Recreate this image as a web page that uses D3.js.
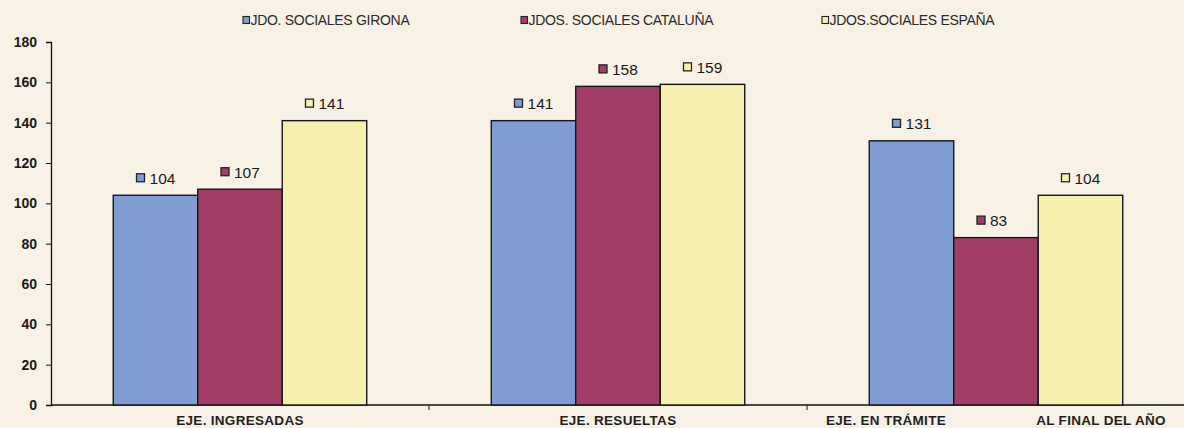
<!DOCTYPE html>
<html>
<head>
<meta charset="utf-8">
<script src="https://cdn.jsdelivr.net/npm/d3@7"></script>
<style>
  body { margin: 0; background: #f8f1e5; }
  svg { display: block; font-family: "Liberation Sans", Arial, sans-serif; }
</style>
</head>
<body>
<div id="chart"></div>
<script>
// data
var categories = ["EJE. INGRESADAS", "EJE. RESUELTAS", "EJE. EN TRÁMITE AL FINAL DEL AÑO"];
var seriesNames = ["JDO. SOCIALES GIRONA", "JDOS. SOCIALES CATALUÑA", "JDOS.SOCIALES ESPAÑA"];
var girona = [104, 141, 131];
var cataluna = [107, 158, 83];
var espana = [141, 159, 104];
var yTicks = [0, 20, 40, 60, 80, 100, 120, 140, 160, 180];

var colors = ["#7f9dd2", "#a13d66", "#f6efae"];
var series = [girona, cataluna, espana];

var width = 1184, height = 428;
var margin = {top: 42, right: -1, bottom: 23, left: 51};

var svg = d3.select("#chart")
    .append("svg")
    .attr("width", width)
    .attr("height", height);

svg.append("rect").attr("width", width).attr("height", height).attr("fill", "#f8f1e5");

var x0 = d3.scaleBand()
    .domain(categories)
    .range([margin.left, width - margin.right])
    .paddingInner(0)
    .paddingOuter(0);

var x1 = d3.scaleBand()
    .domain(d3.range(seriesNames.length))
    .range([0, x0.bandwidth()])
    .paddingOuter(0.737)
    .paddingInner(0);

var y = d3.scaleLinear()
    .domain([0, 180])
    .range([height - margin.bottom, margin.top]);

// y axis
var yAxis = svg.append("g")
    .attr("transform", "translate(" + margin.left + ",0)")
    .call(d3.axisLeft(y).tickValues(yTicks).tickSize(5).tickPadding(9));
yAxis.select(".domain").attr("stroke", "#111").attr("stroke-width", 1.3);
yAxis.selectAll(".tick line").attr("stroke", "#111");
yAxis.selectAll("text")
    .attr("font-size", 14)
    .attr("font-weight", "bold")
    .attr("fill", "#1a1a1a")
    .attr("font-family", "'Liberation Sans', Arial, sans-serif");

// x axis
var xAxis = svg.append("g")
    .attr("transform", "translate(0," + y(0) + ")");
xAxis.append("line")
    .attr("x1", margin.left).attr("x2", width)
    .attr("stroke", "#111").attr("stroke-width", 1.3);
xAxis.selectAll(".sep")
    .data(categories.slice(1))
    .enter().append("line")
    .attr("class", "sep")
    .attr("x1", function (d) { return x0(d); })
    .attr("x2", function (d) { return x0(d); })
    .attr("y1", 0).attr("y2", 5)
    .attr("stroke", "#111");

// bars
var groups = svg.append("g")
    .selectAll("g")
    .data(categories)
    .enter().append("g")
    .attr("transform", function (d) { return "translate(" + x0(d) + ",0)"; });

groups.selectAll("rect")
    .data(function (d, i) { return series.map(function (s, j) { return {s: j, v: s[i]}; }); })
    .enter().append("rect")
    .attr("x", function (d) { return x1(d.s); })
    .attr("y", function (d) { return y(d.v); })
    .attr("width", x1.bandwidth())
    .attr("height", function (d) { return y(0) - y(d.v); })
    .attr("fill", function (d) { return colors[d.s]; })
    .attr("stroke", "#161616")
    .attr("stroke-width", 1.4);

// value labels with small key squares
var lab = groups.selectAll("g.lab")
    .data(function (d, i) { return series.map(function (s, j) { return {s: j, v: s[i]}; }); })
    .enter().append("g")
    .attr("class", "lab")
    .attr("transform", function (d) {
      return "translate(" + (x1(d.s) + x1.bandwidth() / 2) + "," + (y(d.v) - 17) + ")";
    });
lab.append("rect")
    .attr("x", -19).attr("y", -4.5)
    .attr("width", 8).attr("height", 8)
    .attr("fill", function (d) { return colors[d.s]; })
    .attr("stroke", "#222").attr("stroke-width", 1.3);
lab.append("text")
    .attr("x", -6)
    .attr("dy", "0.36em")
    .attr("font-size", 15.5)
    .attr("fill", "#1a1a1a")
    .text(function (d) { return d.v; });

// category labels
var catY = 425;
groups.each(function (d) {
  var g = d3.select(this);
  var cx = x0.bandwidth() / 2;
  var parts = d.indexOf(" AL ") > 0 ? [d.slice(0, d.indexOf(" AL ")), d.slice(d.indexOf(" AL ") + 1)] : [d];
  var offs = parts.length > 1 ? [-110, 105] : [0];
  parts.forEach(function (p, k) {
    g.append("text")
      .attr("x", cx + offs[k])
      .attr("y", catY)
      .attr("text-anchor", "middle")
      .attr("font-size", 13.5)
      .attr("font-weight", "bold")
      .attr("letter-spacing", 0.3)
      .attr("fill", "#1f1f1f")
      .text(p);
  });
});

// legend
var legendX = [243, 521, 822];
var legend = svg.append("g")
    .selectAll("g")
    .data(seriesNames)
    .enter().append("g")
    .attr("transform", function (d, i) { return "translate(" + legendX[i] + ",20)"; });
legend.append("rect")
    .attr("x", 0).attr("y", -3.5)
    .attr("width", 6.5).attr("height", 7)
    .attr("fill", function (d, i) { return colors[i]; })
    .attr("stroke", "#222").attr("stroke-width", 1.1);
legend.append("text")
    .attr("x", 7.5)
    .attr("dy", "0.35em")
    .attr("font-size", 14)
    .attr("letter-spacing", -0.3)
    .attr("fill", "#2a2a2a")
    .text(function (d) { return d; });
</script>
</body>
</html>
